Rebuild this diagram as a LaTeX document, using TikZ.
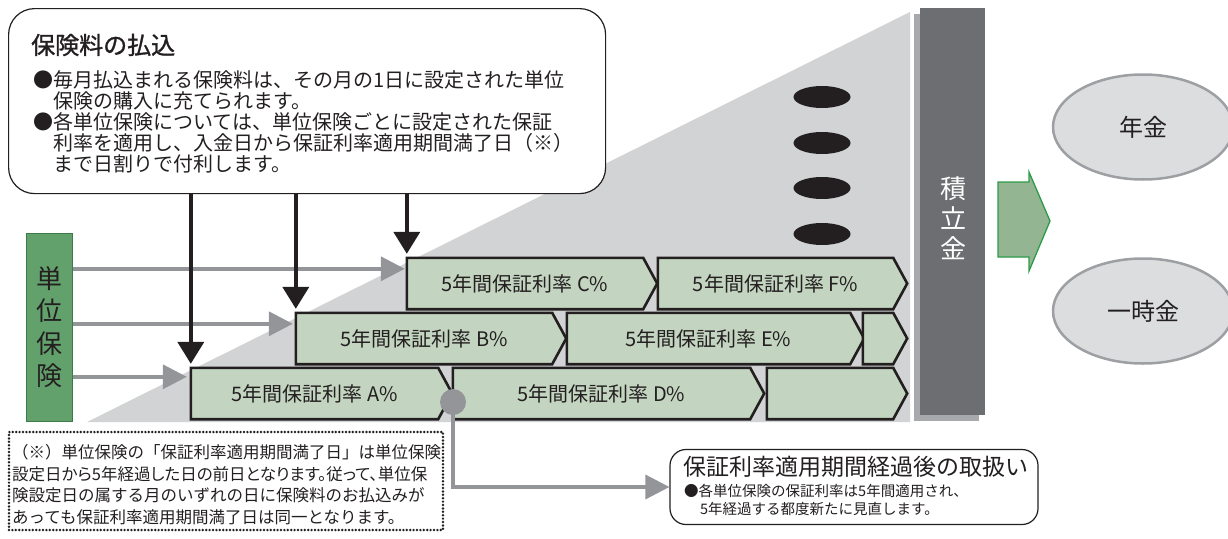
\documentclass[tikz,border=0pt]{standalone}
\usepackage{fontspec}
\setmainfont{Noto Sans CJK JP}
\newfontfamily\jpb{Noto Sans CJK JP}[FakeBold=1.2]
\newfontfamily\jpp{Noto Sans CJK JP}[RawFeature=+palt]
\usetikzlibrary{arrows.meta,backgrounds,calc,shapes.geometric}
\definecolor{dark}{HTML}{231F20}
\definecolor{tri}{HTML}{D1D3D4}
\definecolor{chevfill}{HTML}{C3D5C0}
\definecolor{arrgray}{HTML}{939598}
\definecolor{bardark}{HTML}{6D6E71}
\definecolor{barshadow}{HTML}{A7A9AC}
\definecolor{unitgreen}{HTML}{62A06C}
\definecolor{unitborder}{HTML}{3C7A48}
\definecolor{arrgreen}{HTML}{93B592}
\definecolor{arrgreenline}{HTML}{2E9B48}
\definecolor{ellfill}{HTML}{DCDDDF}
\definecolor{ellline}{HTML}{9D9FA2}
\newcommand\chevpath[1]{\draw[chevline] (#1.north west) -- (#1.north east) -- ($(#1.east)+(14,0)$) -- (#1.south east) -- (#1.south west) -- cycle;}
\begin{document}
\begin{tikzpicture}[x=1pt,y=-1pt,
  chevbox/.style={minimum height=51, inner sep=0, text=dark, font=\fontsize{20}{20}\selectfont},
  chevline/.style={draw=dark, line width=2.6pt, fill=chevfill, line join=miter},
  blk/.style={draw=dark, line width=4pt, -{Triangle[length=22pt,width=26pt]}},
  gra/.style={draw=arrgray, line width=3.5pt, -{Triangle[length=24pt,width=24pt]}},
  callout/.style={draw=dark, line width=1.2pt, rounded corners=26pt, fill=white, inner sep=0},
  blob/.style={ellipse, fill=dark, minimum width=57, minimum height=22, inner sep=0},
  outell/.style={ellipse, fill=ellfill, draw=ellline, line width=2.5pt, minimum width=180, minimum height=105, inner sep=0, text=dark, font=\fontsize{24}{24}\selectfont},
  txt/.style={inner sep=0, text=dark, align=left},
]
\useasboundingbox (0,0) rectangle (1228,538);

% chevron boxes (geometry nodes)
\node[chevbox, minimum width=236] (C) at (525,283.5) {5年間保証利率 C\%};
\node[chevbox, minimum width=235] (F) at (775.5,283.5) {5年間保証利率 F\%};
\node[chevbox, minimum width=256] (B) at (424,338.5) {5年間保証利率 B\%};
\node[chevbox, minimum width=283] (E) at (708.5,338.5) {5年間保証利率 E\%};
\node[chevbox, minimum width=30] (S) at (878,338.5) {};
\node[chevbox, minimum width=247] (A) at (314.5,393.5) {5年間保証利率 A\%};
\node[chevbox, minimum width=297] (D) at (601.5,393.5) {5年間保証利率 D\%};
\node[chevbox, minimum width=126] (G) at (830,393.5) {};

\begin{scope}[on background layer]
  \fill[tri] (87,422) -- (910,12) -- (910,422) -- cycle;
  \chevpath{C}\chevpath{F}\chevpath{B}\chevpath{E}\chevpath{S}\chevpath{A}\chevpath{D}\chevpath{G}
\end{scope}

% top callout
\node[callout, minimum width=597, minimum height=185, anchor=north west] (pay) at (8,8) {};
\node[txt, anchor=west, font=\jpb\fontsize{24}{24}\selectfont] (payT) at (31,45) {保険料の払込};
\node[txt, anchor=north west, font=\fontsize{20}{21.2}\selectfont] (payB) at (33,70)
 {●毎月払込まれる保険料は、その月の1日に設定された単位\\
 \hspace*{1em}保険の購入に充てられます。\\
 ●各単位保険については、単位保険ごとに設定された保証\\
 \hspace*{1em}利率を適用し、入金日から保証利率適用期間満了日（※）\\
 \hspace*{1em}まで日割りで付利します。};

% unit box
\node[fill=unitgreen, draw=unitborder, line width=1pt, minimum width=46, minimum height=188, inner sep=0,
  text=dark, align=center, font=\fontsize{26}{32.5}\selectfont] (unit) at (49,327) {単\\位\\保\\険};

% gray arrows from unit box
\draw[gra] (unit.east |- {$(C.north west)+(0,11)$}) -- ($(C.north west)+(-2,11)$);
\draw[gra] (unit.east |- {$(B.north west)+(0,11)$}) -- ($(B.north west)+(-3,11)$);
\draw[gra] (unit.east |- {$(A.north west)+(0,9)$}) -- ($(A.north west)+(-4,9)$);

% black arrows from callout
\draw[blk] (pay.south -| A.north west) -- ($(A.north west)+(0,-4)$);
\draw[blk] (pay.south -| B.north west) -- ($(B.north west)+(0,-4)$);
\draw[blk] (pay.south -| C.north west) -- ($(C.north west)+(0,-4)$);

% ellipses (continuation marks)
\node[blob] (e1) at (822,97) {};
\node[blob] (e2) at (822,143) {};
\node[blob] (e3) at (822,188) {};
\node[blob] (e4) at (822,234) {};

% accumulation bar
\fill[barshadow] (914,14) rectangle (979,421);
\node[fill=bardark, minimum width=65, minimum height=407, inner sep=0] (bar) at (952.5,211.5) {};
\node[inner sep=0, text=white, align=center, font=\fontsize{26}{30}\selectfont] (barT) at (953,218) {積\\立\\金};

% green block arrow
\draw[fill=arrgreen, draw=arrgreenline, line width=1.3pt] (998,182) -- (1029,182) -- (1029,172) -- (1050,221) -- (1029,271) -- (1029,257) -- (998,257) -- cycle;

% outcome ellipses
\node[outell] (nenkin) at (1143,127) {年金};
\node[outell] (ichiji) at (1143,311) {一時金};

% dot and arrow to lower callout
\node[callout, rounded corners=16pt, minimum width=368, minimum height=75] (rate) at (854,487) {};
\draw[gra] (453,402) |- (rate.west);
\node[circle, fill=arrgray, minimum size=26, inner sep=0] (dot) at (453,402) {};
\node[txt, anchor=west, font=\fontsize{23}{23}\selectfont] (rateT) at (683,467) {保証利率適用期間経過後の取扱い};
\node[txt, anchor=north west, font=\fontsize{14.5}{18}\selectfont] (rateB) at (684,484)
 {●各単位保険の保証利率は5年間適用され、\\\hspace*{1.1em}5年経過する都度新たに見直します。};

% dotted note box
\node[draw=dark, line width=2.7pt, dash pattern=on 0pt off 3.4pt, line cap=round, minimum width=434, minimum height=98, inner sep=0] (note) at (226,481) {};
\node[txt, anchor=north west, font=\fontsize{16.5}{21.8}\selectfont] (noteT) at (12,444)
 {（※）単位保険の「保証利率適用期間満了日」は単位保険\\
 {\jpp 設定日から5年経過した日の前日となります。従って、単位保}\\
 険設定日の属する月のいずれの日に保険料のお払込みが\\
 あっても保証利率適用期間満了日は同一となります。};
\end{tikzpicture}
\end{document}
